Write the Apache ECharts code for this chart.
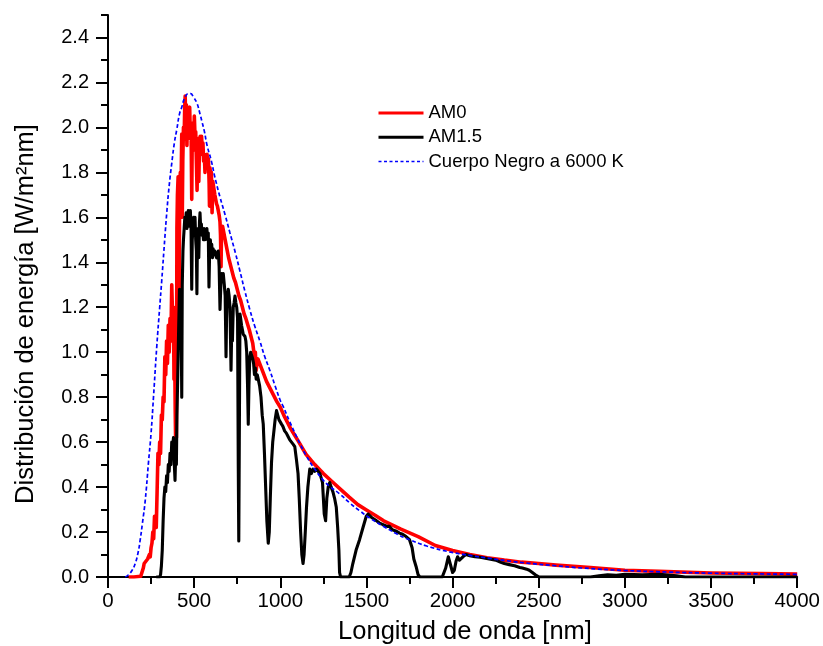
<!DOCTYPE html>
<html><head><meta charset="utf-8">
<script src="https://cdn.jsdelivr.net/npm/echarts@6/dist/echarts.min.js"></script>
<style>html,body{margin:0;padding:0;background:#fff}#c{width:823px;height:646px}</style>
</head><body><div id="c"></div>
<script>
// [wavelength nm, irradiance W/m2nm]
const am0Points = [
[120,0],[150,0],[190,0.003],[200,0.01],[205,0.04],[210,0.06],[215,0.055],[220,0.07],[225,0.065],[230,0.08],[235,0.075],[240,0.1],[245,0.09],[250,0.13],[255,0.15],[260,0.2],[265,0.17],[270,0.27],[275,0.25],[280,0.22],[285,0.38],[290,0.55],[295,0.5],[300,0.6],[305,0.55],[310,0.72],[315,0.7],[320,0.8],[325,0.78],[330,0.98],[335,0.9],[340,1.05],[345,0.95],[350,1.12],[355,1.0],[360,1.15],[365,1.05],[370,1.3],[375,1.15],[380,1.2],[383,0.88],[386,1.1],[390,0.75],[393,0.58],[396,1.0],[397,0.62],[400,1.55],[403,1.7],[407,1.78],[410,1.65],[413,1.25],[416,1.75],[420,1.8],[424,1.72],[428,1.97],[431,1.6],[434,1.85],[438,2.0],[442,1.95],[445,2.08],[448,2.14],[451,2.0],[455,2.1],[458,1.92],[462,2.08],[466,1.98],[470,2.06],[474,2.09],[478,1.95],[482,2.02],[486,1.68],[489,1.98],[493,2.0],[497,1.9],[501,2.05],[505,1.96],[509,1.98],[513,1.85],[517,1.72],[520,1.88],[524,1.95],[527,1.76],[531,1.92],[535,1.96],[539,1.88],[543,1.96],[547,1.9],[551,1.93],[555,1.85],[559,1.88],[563,1.8],[567,1.87],[571,1.84],[575,1.88],[579,1.82],[583,1.86],[587,1.75],[589,1.65],[592,1.82],[596,1.78],[600,1.8],[604,1.62],[608,1.76],[612,1.74],[616,1.72],[620,1.7],[625,1.68],[630,1.66],[635,1.65],[640,1.63],[645,1.61],[650,1.58],[653,1.52],[656,1.38],[659,1.55],[665,1.56],[670,1.54],[680,1.5],[690,1.46],[700,1.42],[710,1.39],[720,1.36],[730,1.33],[740,1.31],[750,1.28],[760,1.25],[770,1.23],[780,1.2],[790,1.17],[800,1.15],[820,1.1],[840,1.04],[850,0.98],[855,1.0],[860,0.92],[866,0.96],[870,0.97],[880,0.95],[900,0.91],[920,0.87],[940,0.84],[960,0.81],[980,0.78],[1000,0.755],[1020,0.72],[1040,0.69],[1060,0.66],[1080,0.635],[1100,0.61],[1150,0.545],[1200,0.5],[1250,0.46],[1300,0.425],[1350,0.39],[1400,0.355],[1450,0.322],[1500,0.298],[1550,0.275],[1600,0.25],[1700,0.213],[1800,0.18],[1900,0.14],[2000,0.118],[2100,0.1],[2200,0.086],[2300,0.075],[2400,0.066],[2500,0.06],[2600,0.053],[2800,0.042],[3000,0.03],[3200,0.025],[3500,0.018],[3800,0.015],[4000,0.013]
];
const am15Points = [
[280,0],[300,0],[305,0.01],[310,0.05],[315,0.12],[320,0.25],[325,0.35],[330,0.4],[335,0.38],[340,0.45],[345,0.42],[350,0.5],[355,0.47],[360,0.55],[365,0.5],[370,0.6],[375,0.58],[380,0.62],[385,0.5],[389,0.43],[393,0.55],[397,0.5],[400,0.72],[405,0.9],[410,1.1],[415,1.28],[420,1.2],[425,1.1],[428,0.8],[431,1.3],[435,1.45],[438,1.5],[442,1.55],[446,1.6],[450,1.58],[454,1.62],[458,1.55],[462,1.6],[466,1.63],[470,1.56],[474,1.6],[478,1.63],[482,1.55],[486,1.28],[489,1.5],[493,1.55],[497,1.6],[501,1.52],[505,1.6],[509,1.5],[513,1.45],[516,1.26],[519,1.5],[523,1.55],[527,1.42],[531,1.58],[534,1.62],[538,1.55],[542,1.57],[546,1.52],[550,1.54],[554,1.5],[558,1.55],[562,1.5],[566,1.53],[570,1.52],[574,1.55],[578,1.5],[582,1.53],[586,1.29],[590,1.45],[594,1.5],[598,1.46],[602,1.48],[606,1.42],[610,1.46],[615,1.44],[620,1.45],[625,1.43],[630,1.42],[635,1.44],[640,1.45],[645,1.38],[650,1.19],[655,1.3],[660,1.35],[665,1.33],[669,1.35],[675,1.3],[680,1.25],[685,0.98],[688,1.15],[692,1.25],[698,1.28],[703,1.25],[708,1.2],[714,0.92],[718,1.1],[722,1.05],[727,1.2],[732,1.22],[737,1.25],[742,1.22],[747,1.2],[752,1.15],[756,0.5],[759,0.16],[762,0.6],[766,1.17],[770,1.15],[775,1.12],[780,1.1],[785,1.08],[790,1.08],[795,1.07],[800,1.05],[805,1.0],[810,0.85],[814,0.68],[818,0.85],[823,0.98],[828,1.0],[833,1.0],[840,0.97],[845,0.95],[850,0.9],[855,0.93],[860,0.88],[866,0.9],[872,0.88],[880,0.85],[888,0.8],[895,0.72],[901,0.68],[908,0.55],[915,0.4],[922,0.25],[930,0.15],[936,0.2],[942,0.35],[949,0.51],[956,0.6],[963,0.65],[970,0.7],[978,0.74],[985,0.72],[992,0.7],[1000,0.7],[1007,0.68],[1015,0.67],[1025,0.65],[1035,0.64],[1045,0.625],[1055,0.61],[1065,0.6],[1075,0.59],[1084,0.58],[1094,0.52],[1103,0.46],[1110,0.35],[1118,0.2],[1125,0.1],[1132,0.06],[1138,0.1],[1145,0.2],[1152,0.31],[1160,0.4],[1171,0.48],[1180,0.46],[1190,0.48],[1200,0.47],[1209,0.48],[1220,0.47],[1230,0.46],[1238,0.46],[1245,0.42],[1250,0.35],[1255,0.28],[1263,0.25],[1270,0.35],[1278,0.4],[1287,0.42],[1295,0.4],[1305,0.38],[1315,0.35],[1325,0.31],[1333,0.22],[1340,0.12],[1344,0.02],[1350,0],[1400,0],[1410,0.02],[1421,0.06],[1440,0.12],[1460,0.166],[1480,0.22],[1499,0.27],[1510,0.28],[1520,0.28],[1530,0.265],[1540,0.27],[1550,0.255],[1560,0.25],[1576,0.24],[1590,0.235],[1600,0.23],[1620,0.225],[1634,0.225],[1650,0.21],[1670,0.205],[1692,0.195],[1710,0.19],[1730,0.18],[1750,0.166],[1765,0.13],[1775,0.08],[1788,0.047],[1800,0.01],[1810,0],[1940,0],[1960,0.04],[1975,0.09],[1985,0.085],[2000,0.02],[2010,0.03],[2020,0.07],[2029,0.09],[2040,0.075],[2048,0.07],[2060,0.09],[2077,0.1],[2100,0.095],[2130,0.09],[2160,0.088],[2213,0.08],[2250,0.075],[2280,0.065],[2300,0.06],[2329,0.055],[2360,0.05],[2390,0.042],[2405,0.04],[2430,0.035],[2445,0.03],[2463,0.02],[2480,0.01],[2502,0],[2800,0],[2850,0.005],[2900,0.01],[2950,0.008],[3000,0.012],[3100,0.01],[3200,0.012],[3300,0.005],[3350,0],[4000,0]
];
const blackbodyPoints = [
[100,0],[119,0.01],[140,0.03],[158,0.06],[175,0.11],[187,0.166],[200,0.24],[216,0.34],[235,0.51],[250,0.64],[264,0.8],[283,1.025],[300,1.2],[312,1.32],[330,1.51],[341,1.62],[355,1.74],[370,1.84],[385,1.93],[399,1.99],[415,2.06],[428,2.09],[445,2.13],[466,2.15],[480,2.15],[495,2.136],[515,2.11],[534,2.06],[544,2.03],[560,1.98],[575,1.92],[600,1.85],[620,1.78],[650,1.69],[680,1.61],[708,1.53],[740,1.44],[766,1.36],[795,1.27],[823,1.19],[850,1.12],[881,1.05],[910,0.98],[939,0.92],[970,0.85],[1000,0.785],[1016,0.76],[1055,0.69],[1094,0.625],[1113,0.595],[1150,0.54],[1200,0.48],[1250,0.43],[1287,0.403],[1344,0.37],[1404,0.329],[1460,0.295],[1520,0.262],[1600,0.225],[1680,0.19],[1750,0.166],[1850,0.138],[1981,0.112],[2100,0.096],[2213,0.083],[2330,0.071],[2444,0.061],[2600,0.05],[2752,0.04],[3000,0.029],[3250,0.022],[3500,0.017],[3750,0.014],[4000,0.012]
];
const xTickValues = [0, 500, 1000, 1500, 2000, 2500, 3000, 3500, 4000];
const yTickValues = [0.0, 0.2, 0.4, 0.6, 0.8, 1.0, 1.2, 1.4, 1.6, 1.8, 2.0, 2.2, 2.4];
const seriesNames = ['AM0', 'AM1.5', 'Cuerpo Negro a 6000 K'];
const xTitle = 'Longitud de onda [nm]';
const yTitle = 'Distribución de energía [W/m²nm]';

const FONT = 'Liberation Sans, Arial, Helvetica, sans-serif';
const chart = echarts.init(document.getElementById('c'), null, {renderer: 'canvas'});
const gridTop = 15, gridBottom = 69, gridH = 646 - gridTop - gridBottom;
const yMaxFull = 2.5, yMaxLab = yTickValues[yTickValues.length - 1];
const axisLineStyle = {color: '#000', width: 2};

chart.setOption({
  animation: false,
  backgroundColor: '#fff',
  grid: [
    {left: 108, right: 25, top: gridTop, bottom: gridBottom},
    {left: 108, right: 25, top: gridTop + gridH * (yMaxFull - yMaxLab) / yMaxFull, bottom: gridBottom}
  ],
  legend: {
    orient: 'vertical', left: 377, top: 103.5, padding: 0,
    itemWidth: 45, itemHeight: 14, itemGap: 5.3,
    data: [
      {name: seriesNames[0], lineStyle: {width: 3}},
      {name: seriesNames[1], lineStyle: {width: 3}},
      {name: seriesNames[2], lineStyle: {width: 1.5, type: [3, 2.5]}}
    ],
    itemStyle: {opacity: 0},
    textStyle: {fontFamily: FONT, fontSize: 18.5, color: '#000', lineHeight: 18}
  },
  xAxis: [
    {
      type: 'value', gridIndex: 0, min: xTickValues[0], max: xTickValues[xTickValues.length - 1], interval: 500,
      axisLine: {show: true, onZero: false, lineStyle: axisLineStyle},
      axisTick: {show: true, length: 11, inside: false, lineStyle: axisLineStyle},
      minorTick: {show: true, splitNumber: 2, length: 7, lineStyle: axisLineStyle},
      splitLine: {show: false},
      axisLabel: {fontFamily: FONT, fontSize: 20.5, color: '#000', margin: 14, formatter: v => String(Math.round(v))}
    },
    {type: 'value', gridIndex: 1, min: 0, max: 4000, show: false}
  ],
  yAxis: [
    {
      type: 'value', gridIndex: 0, min: 0, max: yMaxFull, interval: 0.1,
      axisLine: {show: true, onZero: false, lineStyle: axisLineStyle},
      axisTick: {show: true, length: 7, lineStyle: axisLineStyle},
      axisLabel: {show: false},
      splitLine: {show: false}
    },
    {
      type: 'value', gridIndex: 1, min: yTickValues[0], max: yMaxLab, interval: 0.2,
      axisLine: {show: false},
      axisTick: {show: true, length: 12, lineStyle: axisLineStyle},
      axisLabel: {fontFamily: FONT, fontSize: 20, color: '#000', margin: 19, formatter: v => v.toFixed(1)},
      splitLine: {show: false}
    }
  ],
  series: [
    {
      name: seriesNames[0], type: 'line', xAxisIndex: 0, yAxisIndex: 0, data: am0Points,
      symbol: 'none', showSymbol: false, sampling: null, smooth: false,
      lineStyle: {color: '#ff0000', width: 3.6, join: 'round'}, itemStyle: {color: '#ff0000'}, z: 2
    },
    {
      name: seriesNames[1], type: 'line', xAxisIndex: 0, yAxisIndex: 0, data: am15Points,
      symbol: 'none', showSymbol: false, smooth: false,
      lineStyle: {color: '#000000', width: 3.1, join: 'round'}, itemStyle: {color: '#000000'}, z: 3
    },
    {
      name: seriesNames[2], type: 'line', xAxisIndex: 0, yAxisIndex: 0, data: blackbodyPoints,
      symbol: 'none', showSymbol: false, smooth: true,
      lineStyle: {color: '#0000ff', width: 1.7, type: [4, 2.5]}, itemStyle: {color: '#0000ff'}, z: 4
    }
  ],
  graphic: [
    {type: 'text', x: 465, y: 632, style: {text: xTitle, font: '25.5px ' + FONT, fill: '#000', align: 'center', verticalAlign: 'middle'}},
    {type: 'text', x: 26, y: 314, rotation: Math.PI / 2, style: {text: yTitle, font: '25.5px ' + FONT, fill: '#000', align: 'center', verticalAlign: 'middle'}}
  ]
});
</script>
</body></html>
